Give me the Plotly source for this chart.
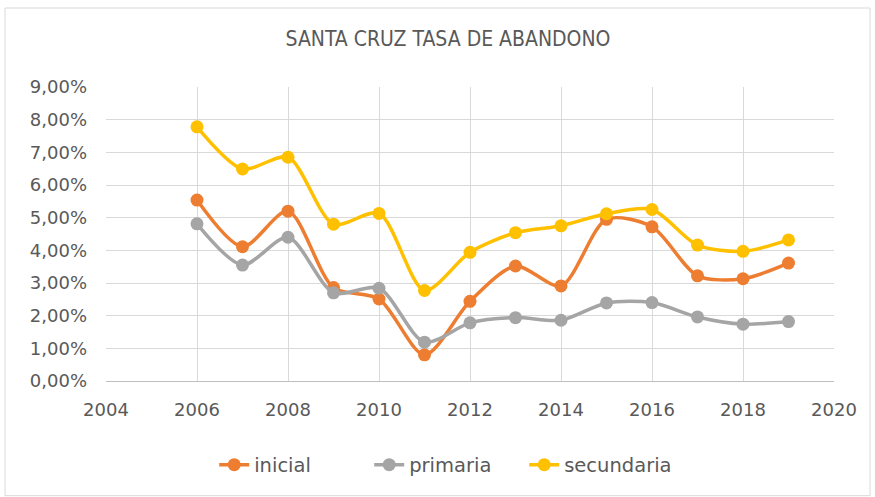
import plotly.graph_objects as go

years = [2006, 2007, 2008, 2009, 2010, 2011, 2012, 2013, 2014, 2015, 2016, 2017, 2018, 2019]
inicial = [5.54, 4.11, 5.20, 2.86, 2.51, 0.80, 2.44, 3.52, 2.91, 4.95, 4.72, 3.22, 3.13, 3.61]
primaria = [4.81, 3.55, 4.40, 2.70, 2.84, 1.19, 1.78, 1.94, 1.86, 2.39, 2.40, 1.96, 1.74, 1.82]
secundaria = [7.78, 6.49, 6.85, 4.80, 5.13, 2.77, 3.94, 4.54, 4.75, 5.12, 5.25, 4.16, 3.97, 4.32]

series = [("inicial", inicial, "#ED7D31"),
          ("primaria", primaria, "#A5A5A5"),
          ("secundaria", secundaria, "#FFC000")]

fig = go.Figure()
for name, vals, col in series:
    fig.add_trace(go.Scatter(
        x=years, y=[v / 100 for v in vals], name=name, mode="lines+markers",
        line=dict(color=col, width=3.5, shape="spline", smoothing=0.8),
        marker=dict(color=col, size=13),
    ))

font_family = "DejaVu Sans"
fig.update_layout(
    width=875, height=497,
    margin=dict(l=106, r=41, t=87, b=116, autoexpand=False),
    paper_bgcolor="white", plot_bgcolor="white",
    separators=",.",
    font=dict(family=font_family, color="#595959", size=18),
    title=dict(text="SANTA CRUZ TASA DE ABANDONO", x=0.512, xanchor="center",
               y=0.922, yanchor="middle",
               font=dict(family="DejaVu Sans Condensed", size=21, color="#595959")),
    xaxis=dict(range=[2004, 2020], dtick=2, tick0=2004, showgrid=True,
               gridcolor="#D9D9D9", gridwidth=1, showline=True, linecolor="#BFBFBF",
               linewidth=1, zeroline=False, ticks="", tickfont=dict(size=18),
               ticklabelstandoff=12, automargin=False),
    yaxis=dict(range=[0, 0.09], dtick=0.01, tickformat=".2%", showgrid=True,
               gridcolor="#D9D9D9", gridwidth=1, zeroline=False, ticks="",
               showline=False, tickfont=dict(size=18), ticklabelstandoff=18,
               automargin=False),
    legend=dict(orientation="h", x=0.468, xanchor="center", y=-0.2857, yanchor="middle",
                font=dict(size=19.5, color="#595959"),
                entrywidth=110, entrywidthmode="pixels"),
    showlegend=True,
)
fig.add_shape(type="rect", xref="paper", yref="paper", x0=-0.1387, x1=1.0495, y0=-0.39, y1=1.2687,
              line=dict(color="#D9D9D9", width=1))
fig.write_html("out.html", config={"displayModeBar": False})

# remove the default page margin so the figure sits at the window's top-left corner
with open("out.html", "r", encoding="utf-8") as f:
    html = f.read()
html = html.replace("<body>", '<body style="margin:0;padding:0;">', 1)
with open("out.html", "w", encoding="utf-8") as f:
    f.write(html)
